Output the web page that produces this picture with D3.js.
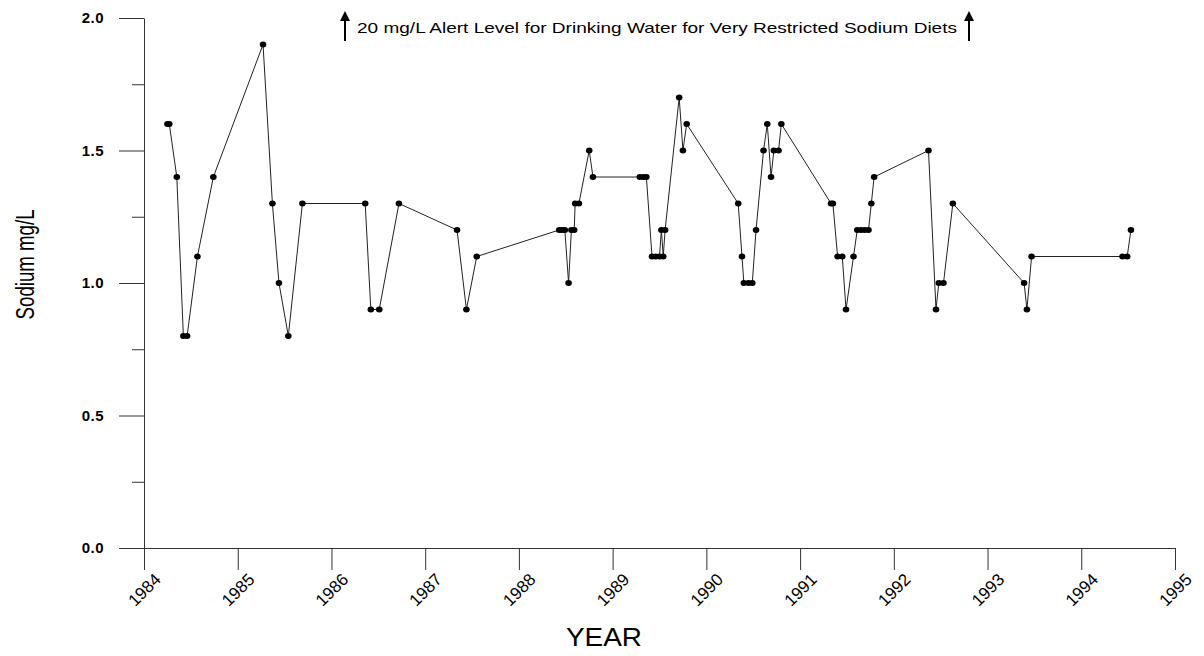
<!DOCTYPE html>
<html>
<head>
<meta charset="utf-8">
<script src="https://cdn.jsdelivr.net/npm/d3@7"></script>
<style>
  body { margin: 0; background: #fff; }
  svg { display: block; font-family: Arial, "Liberation Sans", sans-serif; }
</style>
</head>
<body>
<svg width="1204" height="656"></svg>
<script>
// Sample dates (decimal year) and sodium readings (mg/L)
const sampleYears = [
    1984.25, 1984.27, 1984.35, 1984.42, 1984.46, 1984.57, 1984.74,
    1985.27, 1985.37, 1985.44, 1985.54, 1985.69,
    1986.36, 1986.42, 1986.51, 1986.72,
    1987.34, 1987.44, 1987.55,
    1988.43, 1988.46, 1988.49, 1988.53, 1988.56, 1988.59, 1988.60, 1988.64, 1988.75, 1988.79,
    1989.29, 1989.33, 1989.36, 1989.42, 1989.46, 1989.50, 1989.52, 1989.54, 1989.56, 1989.71, 1989.75, 1989.79,
    1990.34, 1990.38, 1990.40, 1990.45, 1990.49, 1990.53, 1990.61, 1990.65, 1990.69, 1990.72, 1990.77, 1990.80,
    1991.33, 1991.35, 1991.40, 1991.45, 1991.49, 1991.57, 1991.61, 1991.65, 1991.69, 1991.73, 1991.76, 1991.79,
    1992.37, 1992.45, 1992.48, 1992.53, 1992.63,
    1993.39, 1993.42, 1993.47,
    1994.44, 1994.49, 1994.53
];
const sodium = [
    1.6, 1.6, 1.4, 0.8, 0.8, 1.1, 1.4,
    1.9, 1.3, 1.0, 0.8, 1.3,
    1.3, 0.9, 0.9, 1.3,
    1.2, 0.9, 1.1,
    1.2, 1.2, 1.2, 1.0, 1.2, 1.2, 1.3, 1.3, 1.5, 1.4,
    1.4, 1.4, 1.4, 1.1, 1.1, 1.1, 1.2, 1.1, 1.2, 1.7, 1.5, 1.6,
    1.3, 1.1, 1.0, 1.0, 1.0, 1.2, 1.5, 1.6, 1.4, 1.5, 1.5, 1.6,
    1.3, 1.3, 1.1, 1.1, 0.9, 1.1, 1.2, 1.2, 1.2, 1.2, 1.3, 1.4,
    1.5, 0.9, 1.0, 1.0, 1.3,
    1.0, 0.9, 1.1,
    1.1, 1.1, 1.2
];
const yearTicks = [1984, 1985, 1986, 1987, 1988, 1989, 1990, 1991, 1992, 1993, 1994, 1995];
const majorYTicks = [0, 0.5, 1.0, 1.5, 2.0];
const minorYTicks = [0.25, 0.75, 1.25, 1.75];
const noteText = "20 mg/L Alert Level for Drinking Water for Very Restricted Sodium Diets";

const data = sampleYears.map((t, i) => ({ t: t, v: sodium[i] }));

const svg = d3.select("svg");
const plotLeft = 144, plotRight = 1175, plotTop = 18, plotBottom = 548;

const x = d3.scaleLinear().domain([1984, 1995]).range([plotLeft, plotRight]);
const y = d3.scaleLinear().domain([0, 2]).range([plotBottom, plotTop]);

const axisColor = "#333";

// x axis
const gx = svg.append("g")
    .attr("transform", `translate(0,${plotBottom})`)
    .call(d3.axisBottom(x).tickValues(yearTicks).tickFormat(d3.format("d"))
        .tickSize(22).tickSizeOuter(0));
gx.select(".domain").attr("stroke", axisColor);
gx.selectAll(".tick line").attr("stroke", axisColor);
gx.selectAll(".tick text")
    .attr("fill", "#000")
    .style("font-size", "17px")
    .attr("text-anchor", "middle")
    .attr("y", 0)
    .attr("dy", 0)
    .attr("transform", "translate(4,46) rotate(-45)");

// y axis (major with labels)
const gy = svg.append("g")
    .attr("transform", `translate(${plotLeft},0)`)
    .call(d3.axisLeft(y).tickValues(majorYTicks).tickFormat(d3.format(".1f"))
        .tickSize(25).tickPadding(15).tickSizeOuter(0));
gy.select(".domain").attr("stroke", axisColor);
gy.selectAll(".tick line").attr("stroke", axisColor);
gy.selectAll(".tick text")
    .attr("fill", "#000")
    .style("font-size", "15px")
    .style("font-weight", "bold")
    .style("letter-spacing", "0.5px");

// y axis minor ticks
svg.append("g")
    .attr("transform", `translate(${plotLeft},0)`)
    .call(d3.axisLeft(y).tickValues(minorYTicks).tickFormat("").tickSize(12).tickSizeOuter(0))
    .call(g => g.select(".domain").remove())
    .selectAll(".tick line").attr("stroke", axisColor);

// axis titles
svg.append("text")
    .attr("x", 604)
    .attr("y", 646)
    .attr("text-anchor", "middle")
    .attr("textLength", 76)
    .attr("lengthAdjust", "spacingAndGlyphs")
    .style("font-size", "25px")
    .text("YEAR");

svg.append("text")
    .attr("transform", `translate(34,${y(1.07)}) rotate(-90)`)
    .attr("text-anchor", "middle")
    .attr("textLength", 110)
    .attr("lengthAdjust", "spacingAndGlyphs")
    .style("font-size", "25px")
    .text("Sodium mg/L");

// alert note with arrows
svg.append("text")
    .attr("x", 357)
    .attr("y", 33)
    .attr("textLength", 600)
    .attr("lengthAdjust", "spacingAndGlyphs")
    .style("font-size", "15px")
    .text(noteText);

[345, 969].forEach(ax => {
    svg.append("line")
        .attr("x1", ax).attr("x2", ax)
        .attr("y1", 41).attr("y2", 18)
        .attr("stroke", "#000").attr("stroke-width", 2);
    svg.append("path")
        .attr("d", `M${ax - 5},21 L${ax},11 L${ax + 5},21 Z`)
        .attr("fill", "#000");
});

// series line
const line = d3.line().x(d => x(d.t)).y(d => y(d.v));
svg.append("path")
    .datum(data)
    .attr("d", line)
    .attr("fill", "none")
    .attr("stroke", "#222")
    .attr("stroke-width", 1);

// sample points
svg.selectAll(".pt")
    .data(data)
    .enter()
    .append("ellipse")
    .attr("class", "pt")
    .attr("cx", d => x(d.t))
    .attr("cy", d => y(d.v))
    .attr("rx", 3.3)
    .attr("ry", 3)
    .attr("fill", "#000");
</script>
</body>
</html>
